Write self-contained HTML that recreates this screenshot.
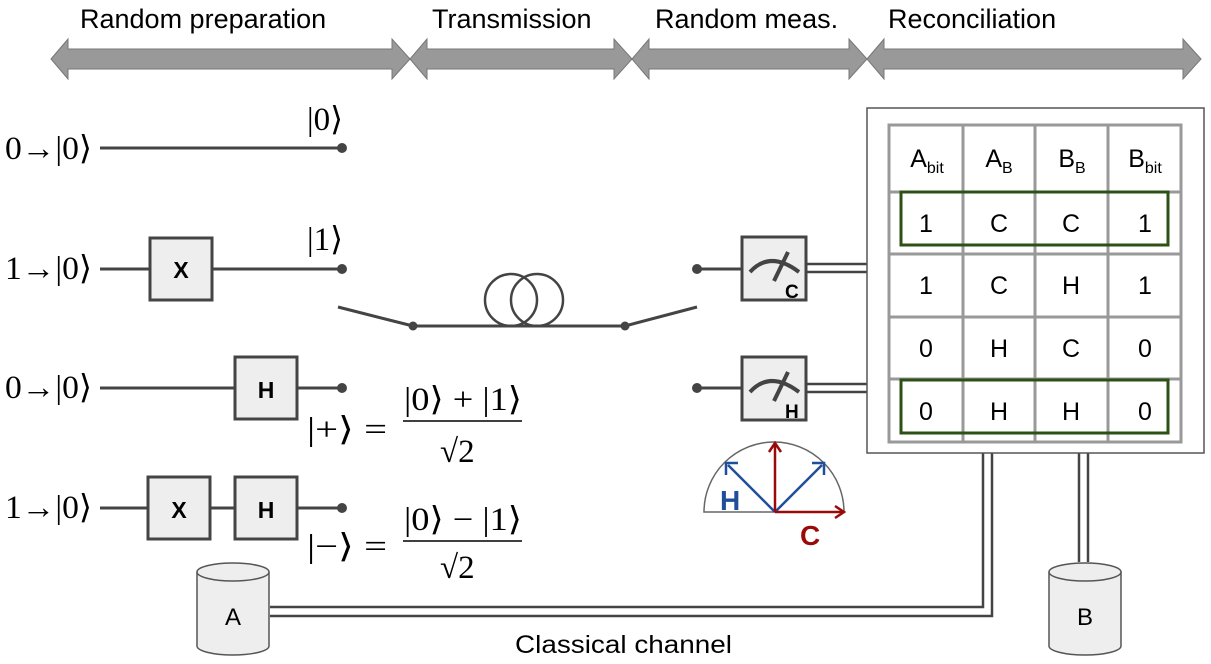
<!DOCTYPE html>
<html><head><meta charset="utf-8"><style>
body{margin:0;background:#fff}
svg{display:block}
.s{font-family:"Liberation Sans",sans-serif}
.m{font-family:"Liberation Serif","DejaVu Serif",serif}
</style></head><body>
<svg width="1211" height="664" viewBox="0 0 1211 664" xmlns="http://www.w3.org/2000/svg">
<g class="s" font-size="27" fill="#000">
<text x="80" y="28">Random preparation</text>
<text x="432" y="28">Transmission</text>
<text x="655" y="28">Random meas.</text>
<text x="888" y="28">Reconciliation</text>
</g>
<g fill="#999" stroke="#777" stroke-width="1">
<polygon points="51,59 68,39 68,49 392,49 392,39 410,59 392,79 392,69 68,69 68,79"/>
<polygon points="410,59 427,39 427,49 614,49 614,39 632,59 614,79 614,69 427,69 427,79"/>
<polygon points="632,59 649,39 649,49 849,49 849,39 867,59 849,79 849,69 649,69 649,79"/>
<polygon points="867,59 884,39 884,49 1183,49 1183,39 1201,59 1183,79 1183,69 884,69 884,79"/>
</g>
<g class="m" font-size="33" fill="#000">
<text x="5" y="159" textLength="87" lengthAdjust="spacingAndGlyphs">0→|0⟩</text>
<text x="5" y="279" textLength="87" lengthAdjust="spacingAndGlyphs">1→|0⟩</text>
<text x="5" y="398" textLength="87" lengthAdjust="spacingAndGlyphs">0→|0⟩</text>
<text x="5" y="518" textLength="87" lengthAdjust="spacingAndGlyphs">1→|0⟩</text>
<text x="307" y="130">|0⟩</text>
<text x="307" y="250">|1⟩</text>
<text x="307" y="440" textLength="80" lengthAdjust="spacingAndGlyphs">|+⟩ =</text>
<text x="307" y="557" textLength="80" lengthAdjust="spacingAndGlyphs">|−⟩ =</text>
<text x="404" y="410" textLength="118" lengthAdjust="spacingAndGlyphs">|0⟩ + |1⟩</text>
<text x="440" y="462">√2</text>
<text x="404" y="530" textLength="118" lengthAdjust="spacingAndGlyphs">|0⟩ − |1⟩</text>
<text x="440" y="578">√2</text>
</g>
<g stroke="#000" stroke-width="1.5"><line x1="403" y1="421" x2="522" y2="421"/><line x1="403" y1="541" x2="522" y2="541"/></g>
<g stroke="#444" stroke-width="3" fill="none">
<line x1="100" y1="148" x2="342" y2="148"/>
<line x1="100" y1="269" x2="342" y2="269"/>
<line x1="100" y1="388" x2="342" y2="388"/>
<line x1="100" y1="508" x2="342" y2="508"/>
<line x1="338" y1="307" x2="413" y2="326"/>
<line x1="413" y1="326" x2="625" y2="326"/>
<line x1="625" y1="326" x2="697" y2="307"/>
<line x1="697" y1="269" x2="742" y2="269"/>
<line x1="697" y1="388" x2="742" y2="388"/>
<circle cx="511" cy="300" r="26" stroke-width="2.5"/>
<circle cx="537" cy="300" r="26" stroke-width="2.5"/>
</g>
<g fill="#444">
<circle cx="342" cy="148" r="5"/><circle cx="342" cy="269" r="5"/><circle cx="342" cy="388" r="5"/><circle cx="342" cy="508" r="5"/>
<circle cx="413" cy="326" r="4.5"/><circle cx="625" cy="326" r="4.5"/>
<circle cx="697" cy="269" r="5"/><circle cx="697" cy="388" r="5"/>
</g>
<g fill="#eee" stroke="#444" stroke-width="3">
<rect x="150" y="238" width="62" height="62"/>
<rect x="235" y="357" width="62" height="62"/>
<rect x="148" y="477" width="62" height="62"/>
<rect x="235" y="477" width="62" height="62"/>
<rect x="742" y="237" width="64" height="63"/>
<rect x="742" y="357" width="64" height="63"/>
</g>
<g class="s" font-size="23" font-weight="bold" text-anchor="middle">
<text x="181" y="278">X</text><text x="266" y="398">H</text>
<text x="179" y="518">X</text><text x="266" y="518">H</text>
</g>
<g stroke="#444" stroke-width="4" fill="none">
<path d="M750,272 Q770,250 799,272"/><line x1="774" y1="281" x2="788" y2="252"/>
<path d="M750,392 Q770,370 799,392"/><line x1="774" y1="401" x2="788" y2="372"/>
</g>
<g class="s" font-size="19" font-weight="bold"><text x="785" y="298">C</text><text x="785" y="418">H</text></g>
<g stroke="#444" stroke-width="2.5">
<line x1="806" y1="264" x2="867" y2="264"/><line x1="806" y1="272" x2="867" y2="272"/>
<line x1="806" y1="384" x2="867" y2="384"/><line x1="806" y1="392" x2="867" y2="392"/>
<polyline points="983,453 983,607 270,607" fill="none"/>
<polyline points="992,453 992,616 270,616" fill="none"/>
<line x1="1079" y1="453" x2="1079" y2="562"/><line x1="1088" y1="453" x2="1088" y2="562"/>
</g>
<path d="M704,512 A70,70 0 0 1 844,512 Z" fill="none" stroke="#666" stroke-width="1.5"/>
<g stroke="#1f4e9a" stroke-width="2.5" fill="none">
<line x1="775" y1="512" x2="728" y2="465"/><polyline points="726,475 726,463 738,463"/>
<line x1="775" y1="512" x2="822" y2="465"/><polyline points="812,463 824,463 824,475"/>
</g>
<g stroke="#9b0a0a" stroke-width="2.5" fill="none">
<line x1="775" y1="512" x2="775" y2="444"/><polyline points="769,452 775,443 781,452"/>
<line x1="775" y1="512" x2="843" y2="512"/><polyline points="835,506 844,512 835,518"/>
</g>
<text x="720" y="510" class="s" font-size="28" font-weight="bold" fill="#1f4e9a">H</text>
<text x="800" y="545" class="s" font-size="28" font-weight="bold" fill="#9b0a0a">C</text>
<rect x="867" y="108" width="337" height="345" fill="#fff" stroke="#555" stroke-width="1.5"/>
<g stroke="#999" stroke-width="3" fill="none">
<rect x="889" y="125" width="292" height="317"/>
<line x1="963" y1="125" x2="963" y2="442"/><line x1="1035" y1="125" x2="1035" y2="442"/><line x1="1108" y1="125" x2="1108" y2="442"/>
<line x1="889" y1="192" x2="1181" y2="192"/><line x1="889" y1="254" x2="1181" y2="254"/><line x1="889" y1="317" x2="1181" y2="317"/><line x1="889" y1="379" x2="1181" y2="379"/>
</g>
<g stroke="#2d5016" stroke-width="3" fill="none">
<rect x="901" y="192" width="267" height="53"/>
<rect x="901" y="380" width="267" height="53"/>
</g>
<g class="s" font-size="25" text-anchor="middle">
<text x="927" y="167">A<tspan font-size="16" dy="6">bit</tspan></text>
<text x="999" y="167">A<tspan font-size="16" dy="6">B</tspan></text>
<text x="1072" y="167">B<tspan font-size="16" dy="6">B</tspan></text>
<text x="1145" y="167">B<tspan font-size="16" dy="6">bit</tspan></text>
<text x="926" y="232">1</text><text x="999" y="232">C</text><text x="1071" y="232">C</text><text x="1145" y="232">1</text>
<text x="926" y="294">1</text><text x="999" y="294">C</text><text x="1071" y="294">H</text><text x="1145" y="294">1</text>
<text x="926" y="357">0</text><text x="999" y="357">H</text><text x="1071" y="357">C</text><text x="1145" y="357">0</text>
<text x="926" y="420">0</text><text x="999" y="420">H</text><text x="1071" y="420">H</text><text x="1145" y="420">0</text>
</g>
<g fill="#eee" stroke="#555" stroke-width="1.5">
<path d="M197,572 L197,646 A36,9 0 0 0 269,646 L269,572"/>
<ellipse cx="233" cy="572" rx="36" ry="9"/>
<path d="M1049,572 L1049,646 A36,9 0 0 0 1121,646 L1121,572"/>
<ellipse cx="1085" cy="572" rx="36" ry="9"/>
</g>
<g class="s" font-size="24" text-anchor="middle"><text x="233" y="625">A</text><text x="1085" y="625">B</text></g>
<text x="515" y="653" class="s" font-size="25" textLength="217" lengthAdjust="spacingAndGlyphs">Classical channel</text>
</svg>
</body></html>
